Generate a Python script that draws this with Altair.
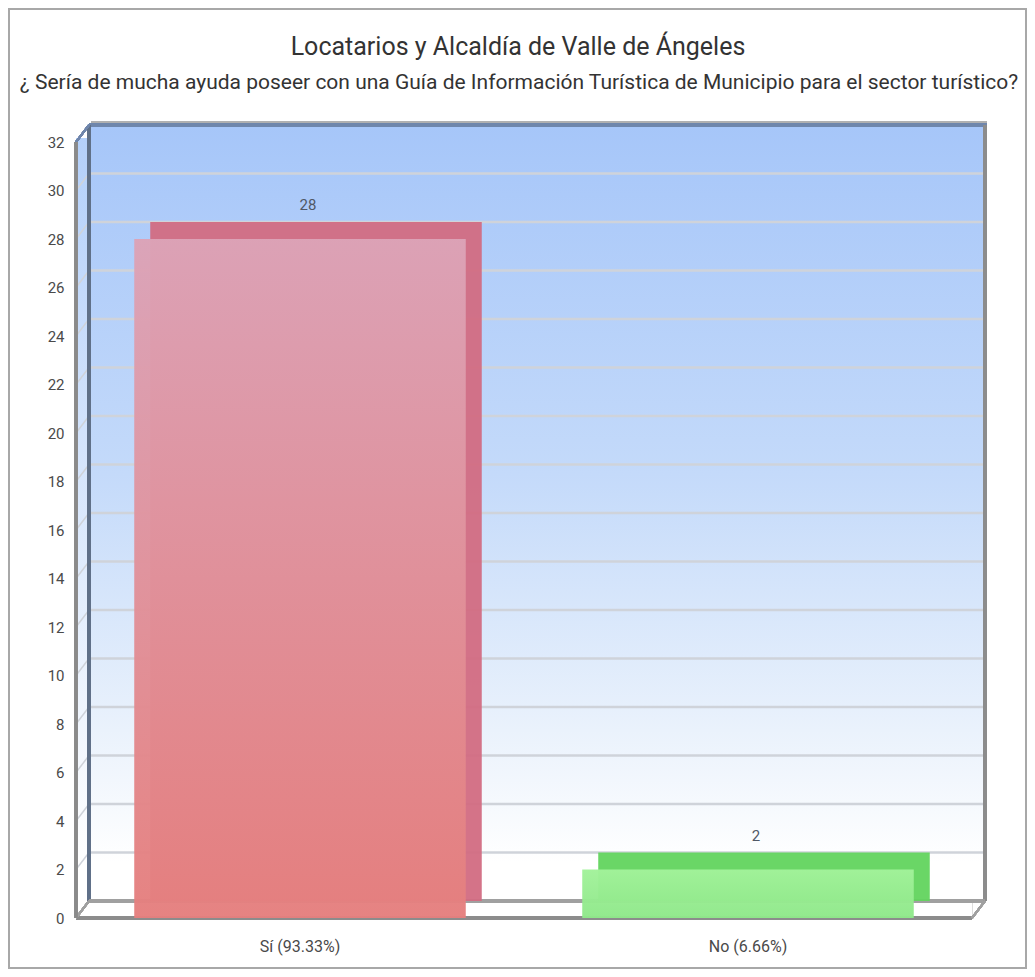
import altair as alt
import pandas as pd

# ---- data ----
categories = ["Sí (93.33%)", "No (6.66%)"]
values = [28, 2]
y_ticks = list(range(0, 33, 2))

# ---- styles ----
face_top = ["#dca3b7", "#a2f29a"]
face_bottom = ["#e57f7e", "#8fe88a"]
depth_colors = ["#d26c82", "#62d45e"]
title_text = "Locatarios y Alcaldía de Valle de Ángeles"
subtitle_text = "¿ Sería de mucha ayuda poseer con una Guía de Información Turística de Municipio para el sector turístico?"

W, H = 896, 776
DX, DY = 13, -17   # wall depth (px)
BX, BY = 16, -17   # bar depth (px)
FONT = "Roboto"

df = pd.DataFrame({"cat": categories, "value": values})
grid_df = pd.DataFrame({"value": y_ticks})
title_df = pd.DataFrame({"t": [title_text]})
subtitle_df = pd.DataFrame({"t": [subtitle_text]})

yscale = alt.Scale(domain=[0, 32], nice=False, zero=True)
yaxis = alt.Axis(title=None, values=y_ticks, ticks=False, domain=False, grid=False, zindex=2,
                 labelPadding=12, labelFontSize=15, labelColor="#4a4a4a", labelFont=FONT)
xscale = alt.Scale(domain=categories, paddingInner=0.26, paddingOuter=0.13)
xaxis = alt.Axis(title=None, labelAngle=0, ticks=False, domain=False, grid=False, zindex=2,
                 labelPadding=20, labelFontSize=16, labelColor="#4a4a4a", labelFont=FONT)

def Y(**kw):
    return alt.Y("value:Q", scale=yscale, axis=yaxis, **kw)

def YD(v):
    return alt.YDatum(v, scale=yscale, axis=yaxis)

base = alt.Chart(df)
gbase = alt.Chart(grid_df)

# outer border of the whole chart
border = base.mark_rect(fillOpacity=0, stroke="#a8a8a8", strokeWidth=2).encode(
    x=alt.value(-67), x2=alt.value(950), y=alt.value(-133), y2=alt.value(826)
)

# titles as text
title = alt.Chart(title_df).mark_text(font=FONT, fontSize=25, color="#333333").encode(
    x=alt.value(W / 2 - 6), y=alt.value(-95), text="t:N"
)
subtitle = alt.Chart(subtitle_df).mark_text(font=FONT, fontSize=21, color="#333333").encode(
    x=alt.value(W / 2 - 5), y=alt.value(-59), text="t:N"
)

# back wall with gradient
wall_grad = alt.Gradient(
    gradient="linear", x1=0, y1=0, x2=0, y2=1,
    stops=[alt.GradientStop(color="#a6c6f9", offset=0),
           alt.GradientStop(color="#c4dafa", offset=0.45),
           alt.GradientStop(color="#eaf2fc", offset=0.78),
           alt.GradientStop(color="#ffffff", offset=0.95),
           alt.GradientStop(color="#ffffff", offset=1)])
back_wall = gbase.mark_rect(fill=wall_grad, yOffset=DY, y2Offset=DY).encode(
    x=alt.value(DX), x2=alt.value(W + DX), y=YD(32), y2=alt.Y2Datum(0)
)
# left wall
left_grad = alt.Gradient(
    gradient="linear", x1=0, y1=0, x2=0, y2=1,
    stops=[alt.GradientStop(color="#b4d0fa", offset=0),
           alt.GradientStop(color="#ffffff", offset=0.95)])
left_wall = gbase.mark_rect(fill=left_grad, yOffset=-4, y2Offset=-13).encode(
    x=alt.value(0), x2=alt.value(DX), y=YD(32), y2=alt.Y2Datum(0)
)

# grid lines on the back wall and on the left wall (diagonal)
grid_back = gbase.mark_rule(color="#cfd3da", strokeWidth=2.5, yOffset=DY).encode(
    x=alt.value(DX), x2=alt.value(W + DX), y=Y()
)
grid_left = gbase.mark_rule(color="#cfd3da", strokeWidth=1.5, y2Offset=DY).encode(
    x=alt.value(0), x2=alt.value(DX), y=Y(), y2="value:Q"
)

# frame edges
edge_top = gbase.mark_rule(color="#6f86ab", strokeWidth=3, yOffset=DY).encode(
    x=alt.value(DX), x2=alt.value(W + DX + 2), y=YD(32)
)
edge_top2 = gbase.mark_rule(color="#b0b0b0", strokeWidth=2, yOffset=DY - 3).encode(
    x=alt.value(DX + 2), x2=alt.value(W + DX + 2), y=YD(32)
)
edge_backleft = gbase.mark_rule(color="#5f7088", strokeWidth=2.5, xOffset=DX, yOffset=DY, y2Offset=DY).encode(
    x=alt.value(0), y=YD(32), y2=alt.Y2Datum(0)
)
edge_front = gbase.mark_rule(color="#8a8a8a", strokeWidth=2.5).encode(
    x=alt.value(0), y=YD(32), y2=alt.Y2Datum(0)
)
edge_right = gbase.mark_rule(color="#8c8c8c", strokeWidth=2.5, yOffset=DY, y2Offset=DY).encode(
    x=alt.value(W + DX), y=YD(32), y2=alt.Y2Datum(0)
)
edge_topdiag = gbase.mark_rule(color="#6f86ab", strokeWidth=2, y2Offset=DY).encode(
    x=alt.value(0), x2=alt.value(DX), y=YD(32), y2=alt.Y2Datum(32)
)
floor_back = gbase.mark_rule(color="#a0a0a0", strokeWidth=2.5, yOffset=DY).encode(
    x=alt.value(DX), x2=alt.value(W + DX), y=YD(0)
)
floor_front = gbase.mark_rule(color="#8c8c8c", strokeWidth=2.5).encode(
    x=alt.value(0), x2=alt.value(W), y=YD(0)
)
floor_ldiag = gbase.mark_rule(color="#a0a0a0", strokeWidth=2, y2Offset=DY).encode(
    x=alt.value(0), x2=alt.value(DX), y=YD(0), y2=alt.Y2Datum(0)
)
floor_rdiag = gbase.mark_rule(color="#a0a0a0", strokeWidth=2, y2Offset=DY).encode(
    x=alt.value(W), x2=alt.value(W + DX), y=YD(0), y2=alt.Y2Datum(0)
)

layers = [border, back_wall, left_wall, grid_back, grid_left, edge_top, edge_top2,
          edge_backleft, edge_right, floor_back, floor_front, floor_ldiag, floor_rdiag,
          edge_topdiag, edge_front]

# bars (depth block, then front face)
for i, c in enumerate(categories):
    one = base.transform_filter(alt.datum.cat == c)
    depth = one.mark_bar(color=depth_colors[i], opacity=0.95,
                         xOffset=BX, x2Offset=BX, yOffset=BY, y2Offset=BY).encode(
        x=alt.X("cat:N", scale=xscale, axis=xaxis), y=Y(), y2=alt.Y2Datum(0)
    )
    grad = alt.Gradient(
        gradient="linear", x1=0, y1=0, x2=0, y2=1,
        stops=[alt.GradientStop(color=face_top[i], offset=0),
               alt.GradientStop(color=face_bottom[i], offset=1)])
    face = one.mark_bar(fill=grad, opacity=0.97).encode(
        x=alt.X("cat:N", scale=xscale, axis=xaxis), y=Y(), y2=alt.Y2Datum(0)
    )
    layers += [depth, face]

labels = base.mark_text(dx=BX / 2, dy=-34, fontSize=15, color="#505866", font=FONT).encode(
    x=alt.X("cat:N", scale=xscale, axis=xaxis), y=Y(), text="value:Q"
)
layers += [labels, title, subtitle]

chart = alt.layer(*layers).properties(
    width=W, height=H,
    autosize=alt.AutoSizeParams(type="none"),
    padding={"left": 68, "top": 134, "right": 55, "bottom": 51},
).configure_view(stroke=None).configure(background="white")

chart.save("out.html", embed_options={"renderer": "svg", "actions": False})
